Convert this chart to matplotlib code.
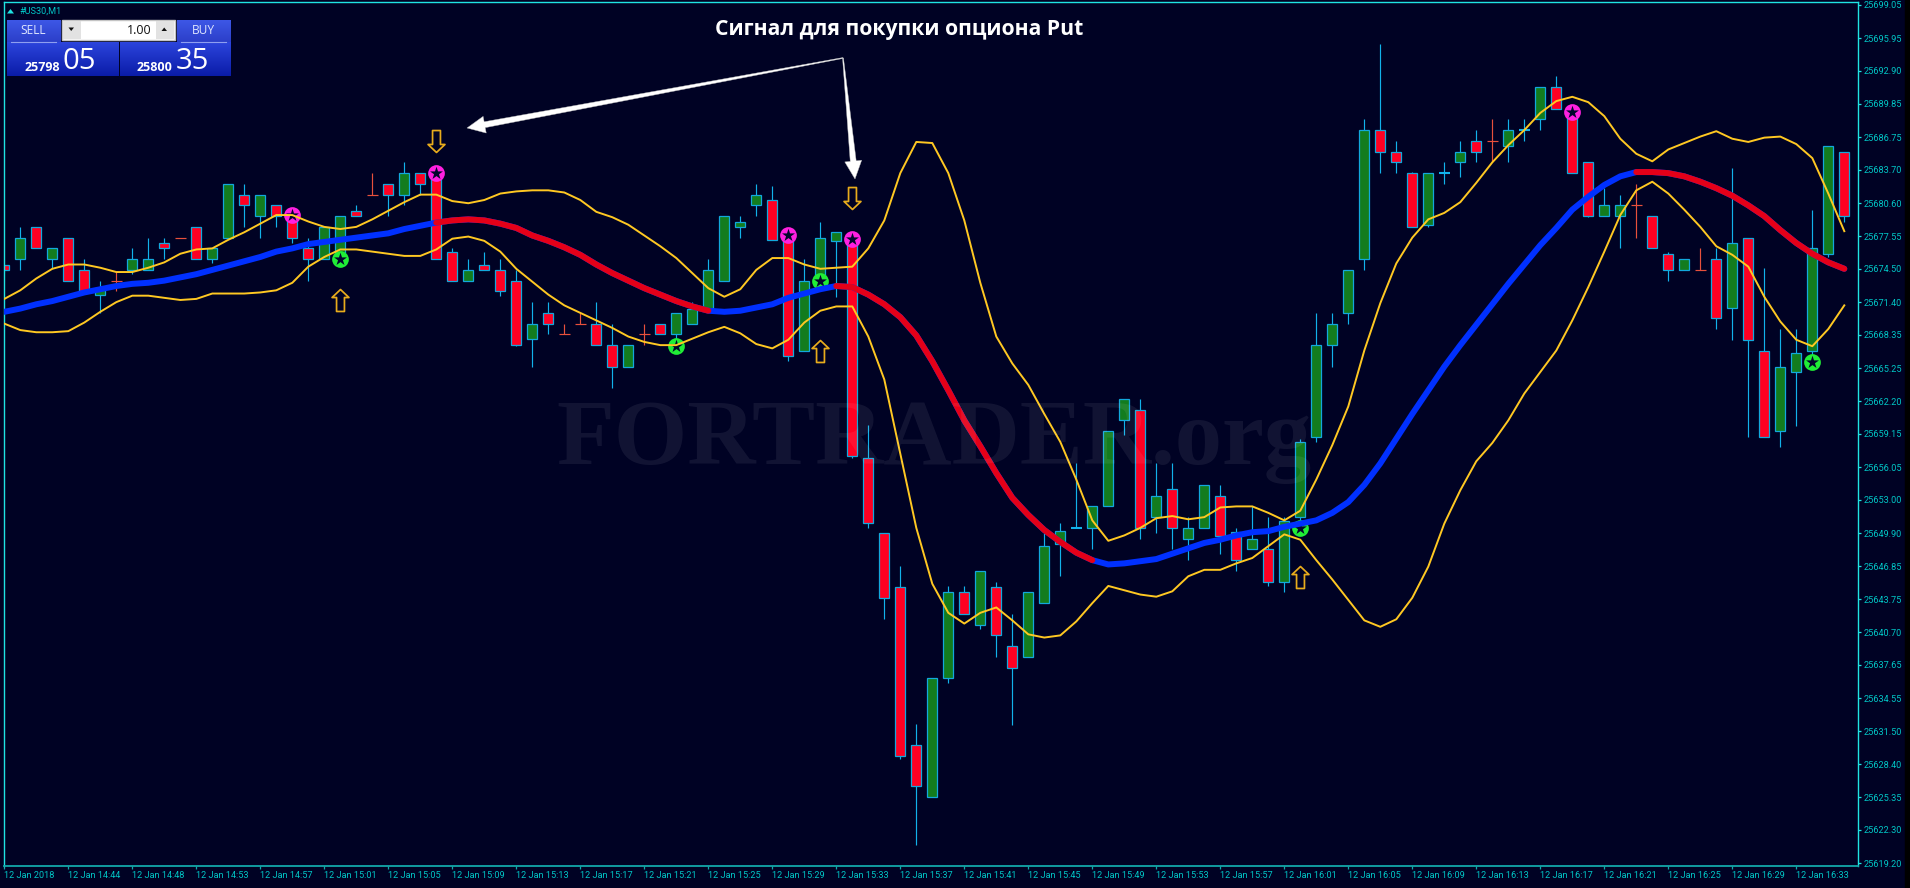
import numpy as np
import matplotlib
matplotlib.use("Agg")
import matplotlib.pyplot as plt
from matplotlib.path import Path
from matplotlib.patches import Rectangle, Polygon
from matplotlib.colors import LinearSegmentedColormap

W, H = 1910, 888
BG = "#000224"
SPINE = "#1fe3e3"
TICKTXT = "#00c6c6"

opens = [25674.9,25675.4,25678.4,25675.4,25677.4,25674.4,25672.1,25673.4,25674.4,25674.4,
25676.9,25677.4,25678.4,25675.4,25677.4,25681.4,25679.4,25680.4,25679.4,25676.4,
25675.4,25676.0,25679.9,25681.4,25682.4,25681.4,25683.4,25683.4,25676.1,25673.4,
25674.9,25674.4,25673.4,25668.0,25670.4,25668.4,25669.4,25669.4,25667.4,25665.4,
25668.4,25669.4,25668.4,25669.4,25670.7,25673.4,25678.4,25680.4,25680.9,25677.4,
25666.9,25673.4,25677.1,25677.4,25656.9,25649.9,25644.9,25630.2,25625.4,25636.4,
25644.4,25641.4,25644.9,25639.4,25638.4,25643.4,25648.9,25650.4,25650.4,25652.4,
25660.4,25661.4,25651.4,25654.0,25649.4,25650.4,25653.4,25650.0,25648.4,25648.4,
25645.4,25651.4,25658.9,25667.4,25670.4,25675.4,25687.4,25685.4,25683.4,25678.6,
25683.4,25684.4,25686.4,25686.4,25685.9,25687.4,25688.4,25691.4,25689.1,25684.4,
25679.4,25679.4,25680.4,25679.4,25675.9,25674.4,25674.4,25675.4,25670.9,25677.4,
25666.9,25659.4,25664.9,25666.9,25675.9,25685.4]
closes = [25674.4,25677.4,25676.4,25676.4,25673.4,25672.4,25672.7,25673.4,25675.4,25675.4,
25676.4,25677.4,25675.4,25676.4,25682.4,25680.4,25681.4,25679.4,25677.4,25675.4,
25678.4,25679.4,25679.4,25681.4,25681.4,25683.4,25682.4,25675.4,25673.4,25674.4,
25674.4,25672.4,25667.4,25669.4,25669.4,25668.4,25669.4,25667.4,25665.4,25667.4,
25668.4,25668.4,25670.4,25670.8,25674.4,25679.4,25678.9,25681.4,25677.2,25666.4,
25673.4,25677.4,25677.9,25657.1,25650.9,25643.9,25629.2,25626.4,25636.4,25644.4,
25642.4,25646.4,25640.4,25637.4,25644.4,25648.7,25650.1,25650.4,25652.4,25659.4,
25662.4,25650.4,25653.4,25650.4,25650.4,25654.4,25649.6,25647.4,25649.4,25645.4,
25651.0,25658.4,25667.4,25669.4,25674.4,25687.4,25685.4,25684.4,25678.4,25683.4,
25683.4,25685.4,25685.4,25686.4,25687.4,25687.4,25691.4,25689.4,25683.4,25679.4,
25680.4,25680.4,25680.4,25676.4,25674.4,25675.4,25674.4,25669.9,25676.9,25667.9,
25658.9,25665.4,25666.7,25676.4,25685.9,25679.4]
highs = [25674.9,25678.4,25678.4,25676.4,25677.4,25675.4,25673.4,25674.2,25676.4,25677.4,
25677.4,25677.4,25678.4,25676.4,25682.4,25682.4,25681.4,25680.4,25679.4,25677.4,
25678.4,25679.4,25680.4,25683.4,25682.4,25684.4,25683.4,25683.4,25676.4,25675.4,
25676.1,25675.4,25674.4,25671.4,25671.4,25669.4,25670.4,25671.4,25669.4,25667.4,
25669.4,25669.4,25670.4,25671.4,25675.4,25679.4,25679.4,25682.4,25682.2,25677.4,
25675.4,25678.9,25677.9,25677.9,25660.0,25649.9,25646.9,25632.2,25636.4,25645.0,
25645.0,25646.4,25645.4,25642.4,25644.4,25649.9,25650.9,25656.4,25652.4,25659.4,
25662.4,25662.4,25656.4,25656.4,25651.4,25654.4,25654.4,25650.4,25652.4,25651.4,
25651.4,25658.7,25670.4,25670.4,25674.4,25688.4,25695.4,25686.4,25683.5,25683.4,
25684.4,25686.4,25687.4,25688.4,25688.4,25688.4,25691.4,25692.4,25689.1,25684.4,
25682.0,25681.4,25682.4,25679.4,25676.1,25675.4,25676.4,25676.4,25683.9,25677.4,
25674.6,25668.9,25668.9,25680.0,25685.9,25685.4]
lows = [25674.4,25674.4,25676.4,25674.6,25673.4,25672.4,25670.4,25672.4,25674.0,25674.4,
25675.4,25677.4,25675.4,25675.0,25677.4,25678.4,25677.4,25678.4,25676.9,25673.4,
25675.4,25676.0,25679.4,25681.4,25679.4,25680.4,25681.4,25675.4,25673.4,25673.4,
25674.4,25672.0,25667.3,25665.4,25668.4,25668.4,25669.4,25667.4,25663.4,25665.4,
25667.4,25668.4,25667.4,25669.4,25670.7,25673.4,25677.4,25679.4,25677.2,25665.9,
25666.9,25673.4,25671.9,25656.9,25650.4,25641.9,25628.9,25620.9,25625.4,25636.0,
25642.4,25641.0,25638.4,25632.1,25638.4,25643.4,25645.9,25650.4,25648.4,25652.4,
25659.0,25649.4,25649.9,25648.4,25647.4,25650.4,25648.0,25646.4,25648.4,25645.0,
25644.4,25650.8,25658.4,25665.4,25669.4,25674.4,25683.4,25683.4,25678.4,25678.4,
25682.4,25683.0,25684.4,25684.4,25684.4,25686.4,25687.4,25689.4,25683.4,25679.3,
25679.4,25676.4,25677.4,25676.4,25673.4,25674.4,25674.4,25668.9,25667.9,25658.9,
25658.9,25657.9,25659.9,25666.2,25675.6,25678.9]

band_upper = [25671.7,25672.5,25673.6,25674.5,25674.9,25674.9,25674.6,25674.2,25674.2,25674.6,
25675.1,25675.9,25676.3,25676.4,25677.2,25677.9,25678.7,25679.5,25679.5,25678.9,
25678.4,25678.2,25678.4,25679.1,25679.9,25680.7,25681.4,25681.4,25680.8,25680.6,
25680.9,25681.5,25681.7,25681.8,25681.8,25681.6,25680.9,25679.8,25679.3,25678.6,
25677.6,25676.6,25675.5,25674.1,25672.7,25671.9,25672.6,25674.4,25675.5,25675.5,
25674.9,25674.5,25674.6,25674.7,25676.4,25679.0,25683.4,25686.3,25686.2,25683.4,
25679.0,25673.2,25668.2,25665.7,25663.7,25661.0,25658.4,25654.9,25651.1,25649.2,
25649.7,25650.4,25651.3,25651.5,25651.2,25651.4,25652.3,25652.4,25652.4,25651.8,
25651.1,25652.0,25654.9,25658.1,25661.7,25666.9,25671.3,25675.0,25677.4,25679.1,
25679.7,25680.7,25682.5,25684.4,25686.0,25687.4,25689.0,25690.1,25690.5,25690.0,
25688.7,25686.6,25685.2,25684.5,25685.6,25686.2,25686.8,25687.3,25686.6,25686.3,
25686.7,25686.8,25686.1,25684.8,25681.5,25678.0]
band_lower = [25669.4,25668.8,25668.6,25668.6,25668.7,25669.5,25670.5,25671.4,25672.0,25672.0,
25671.8,25671.6,25671.7,25672.2,25672.2,25672.2,25672.3,25672.5,25673.2,25674.7,
25675.6,25676.3,25676.3,25676.1,25675.9,25675.7,25675.7,25676.3,25677.3,25677.5,
25677.1,25676.1,25674.5,25673.3,25672.1,25671.1,25670.4,25669.7,25669.0,25668.2,
25667.7,25667.4,25667.4,25668.0,25668.6,25669.1,25668.5,25667.5,25667.1,25667.9,
25669.5,25670.6,25671.0,25671.0,25668.2,25664.2,25657.3,25650.4,25645.2,25642.5,
25641.5,25642.5,25643.0,25641.8,25640.5,25640.2,25640.4,25641.7,25643.4,25645.0,
25644.6,25644.2,25644.0,25644.5,25645.9,25646.5,25646.5,25647.1,25647.6,25648.7,
25649.8,25649.3,25647.4,25645.6,25643.7,25641.8,25641.2,25641.9,25643.9,25646.8,
25650.8,25653.9,25656.6,25658.3,25660.4,25662.9,25664.9,25666.9,25669.7,25672.8,
25676.1,25679.5,25681.8,25682.6,25681.5,25680.0,25678.4,25676.6,25675.8,25674.7,
25671.9,25669.6,25667.9,25667.3,25668.9,25671.1]
middle = [25670.5,25670.8,25671.2,25671.5,25671.9,25672.3,25672.6,25672.9,25673.1,25673.2,
25673.4,25673.7,25674.0,25674.4,25674.8,25675.2,25675.6,25676.1,25676.4,25676.8,
25677.0,25677.2,25677.4,25677.6,25677.8,25678.2,25678.5,25678.8,25679.0,25679.1,
25679.0,25678.7,25678.3,25677.6,25677.1,25676.5,25675.8,25674.9,25674.1,25673.4,
25672.7,25672.1,25671.5,25671.0,25670.6,25670.5,25670.6,25670.9,25671.2,25671.8,
25672.2,25672.6,25672.9,25672.8,25672.1,25671.2,25670.0,25668.3,25665.9,25663.2,
25660.4,25658.0,25655.5,25653.2,25651.6,25650.2,25649.1,25648.1,25647.4,25647.0,
25647.1,25647.3,25647.5,25648.0,25648.5,25649.0,25649.3,25649.7,25650.0,25650.1,
25650.5,25650.8,25651.1,25651.8,25652.8,25654.4,25656.4,25658.7,25661.0,25663.2,
25665.4,25667.4,25669.3,25671.2,25673.1,25674.9,25676.7,25678.3,25680.0,25681.2,
25682.3,25683.1,25683.5,25683.5,25683.4,25683.1,25682.6,25682.0,25681.3,25680.4,
25679.4,25678.1,25676.9,25675.9,25675.1,25674.5]

falling_spans = [(27, 44), (52, 68), (102, 115)]
blue_doji = [67, 90, 95]

sell_idx = [18, 27, 49, 53, 98]
sell_price = [25679.5, 25683.4, 25677.6, 25677.3, 25689.1]
buy_idx = [21, 42, 51, 81, 113]
buy_price = [25675.4, 25667.3, 25673.4, 25650.4, 25665.8]
arrow_down_idx = [27, 53]
arrow_down_price = [25686.4, 25681.1]
arrow_up_idx = [21, 51, 81]
arrow_up_price = [25671.6, 25666.9, 25645.8]

y_labels = ["25699.05","25695.95","25692.90","25689.85","25686.75","25683.70","25680.60",
"25677.55","25674.50","25671.40","25668.35","25665.25","25662.20","25659.15","25656.05",
"25653.00","25649.90","25646.85","25643.75","25640.70","25637.65","25634.55","25631.50",
"25628.40","25625.35","25622.30","25619.20"]
x_times = ["14:44","14:48","14:53","14:57","15:01","15:05","15:09","15:13","15:17","15:21",
"15:25","15:29","15:33","15:37","15:41","15:45","15:49","15:53","15:57","16:01","16:05",
"16:09","16:13","16:17","16:21","16:25","16:29","16:33"]

plt.rcParams["font.family"] = ["Roboto", "DejaVu Sans"]
fig = plt.figure(figsize=(W/100, H/100), dpi=100, facecolor=BG)
L, R, T, B = 3.7, 1857.7, 2.3, 866.0
ax = fig.add_axes([L/W, 1-B/H, (R-L)/W, (B-T)/H], facecolor=BG)
ax.set_xlim((L-4.3)/16, (R-4.3)/16)
ax.set_ylim(25618.95, 25699.29)

o = np.array(opens); c = np.array(closes); hi = np.array(highs); lo = np.array(lows)
idx = np.arange(len(o))
is_doji = o == c
is_up = c > o

ax.vlines(idx[~is_doji], lo[~is_doji], hi[~is_doji], color="#12b2ea", lw=0.85, zorder=1)
bw = 0.63
for mask, col in ((is_up, "#137c1e"), (~is_up & ~is_doji, "#ff0022")):
    ax.bar(idx[mask], (np.maximum(o, c)-np.minimum(o, c))[mask], bw, np.minimum(o, c)[mask],
           color=col, edgecolor="#12a8dc", linewidth=0.9, zorder=2)
blue = np.isin(idx, blue_doji)
rd = is_doji & ~blue
ax.vlines(idx[rd], lo[rd], hi[rd], color="#e8503c", lw=0.85, zorder=2)
ax.hlines(c[rd], idx[rd]-bw/2-0.03, idx[rd]+bw/2+0.03, color="#e8503c", lw=0.85, zorder=2)
ax.vlines(idx[blue], lo[blue], hi[blue], color="#12b2ea", lw=0.85, zorder=2)
ax.hlines(c[blue], idx[blue]-bw/2-0.03, idx[blue]+bw/2+0.03, color="#12b2ea", lw=1.5, zorder=2)

ax.scatter(sell_idx, sell_price, s=145, c="#ff20e0", linewidths=0, zorder=3)
ax.scatter(sell_idx, sell_price, s=95, c="#02062c", marker="*", linewidths=0, zorder=3.1)
ax.scatter(buy_idx, buy_price, s=145, c="#20ee36", linewidths=0, zorder=3)
ax.scatter(buy_idx, buy_price, s=95, c="#02062c", marker="*", linewidths=0, zorder=3.1)

up_verts = [(0,1),(0.77,0.27),(0.36,0.27),(0.36,-1),(-0.36,-1),(-0.36,0.27),(-0.77,0.27),(0,1)]
up_path = Path(up_verts, closed=True)
down_path = Path([(x, -y) for x, y in up_verts], closed=True)
ax.plot(arrow_up_idx, arrow_up_price, ls="", marker=up_path, ms=15.8, mfc="none", mec="#e8ac1c", mew=1.25, zorder=3.2)
ax.plot(arrow_down_idx, arrow_down_price, ls="", marker=down_path, ms=15.8, mfc="none", mec="#e8ac1c", mew=1.25, zorder=3.2)

ax.plot(idx, band_upper, color="#ffc822", lw=1.4, zorder=4)
ax.plot(idx, band_lower, color="#ffc822", lw=1.4, zorder=4)
m = np.array(middle)
ax.plot(idx, m, color="#0030ff", lw=4.3, solid_capstyle="round", zorder=5)
for a, b in falling_spans:
    ax.plot(idx[a:b+1], m[a:b+1], color="#e40018", lw=4.3, solid_capstyle="round", zorder=5.1)

for s in ("top", "left", "right"):
    ax.spines[s].set_color(SPINE); ax.spines[s].set_linewidth(1.0)
ax.spines["bottom"].set_color("#12a8aa"); ax.spines["bottom"].set_linewidth(1.3)
ax.yaxis.tick_right()
ax.set_yticks([float(v) for v in y_labels]); ax.set_yticklabels(y_labels)
ax.set_xticks([0] + list(range(4, 113, 4)))
ax.set_xticklabels(["12 Jan 2018"] + ["12 Jan " + t for t in x_times], ha="left")
ax.tick_params(axis="y", colors=TICKTXT, length=2, width=0.9, pad=2.5, labelsize=6.6, color=SPINE)
ax.tick_params(axis="x", colors=TICKTXT, length=2, width=0.9, pad=1.5, labelsize=6.6, color="#12a8aa")

fig.add_artist(Rectangle((1905/W, 0), 5/W, 1, transform=fig.transFigure, color="#000000", zorder=10))

# overlay in image pixels
ov = fig.add_axes([0, 0, 1, 1], facecolor="none")
ov.set_axis_off()

ov.text(934, 441, "FORTRADER.org", family="Liberation Serif", weight="bold", fontsize=68,
        color="white", alpha=0.07, ha="center", va="center", zorder=1)

def grad(x0, y0, x1, y1, top, bottom):
    cm = LinearSegmentedColormap.from_list("g", [top, bottom])
    ov.imshow(np.linspace(0, 1, 32).reshape(-1, 1), extent=(x0, x1, y1, y0), cmap=cm, aspect="auto", zorder=2)

grad(7, 20, 60, 43, "#3d57e6", "#2b3ec8")
grad(177, 20, 230, 43, "#3d57e6", "#2b3ec8")
grad(7, 42, 118, 76, "#2c44dc", "#0a1ca8")
grad(120, 42, 230, 76, "#2c44dc", "#0a1ca8")
for x0, x1 in ((11, 56), (181, 226)):
    ov.plot([x0, x1], [42, 42], color="#8f9ff0", lw=0.8, zorder=3)
ov.add_patch(Rectangle((62, 20), 113, 20, fc="#ffffff", ec="#c4c4c4", lw=1, zorder=3))
ov.add_patch(Rectangle((63, 21), 18, 18, fc="#e2e2e2", ec="none", zorder=3.1))
ov.add_patch(Rectangle((156, 21), 18, 18, fc="#e2e2e2", ec="none", zorder=3.1))
ov.add_patch(Polygon([(68.5, 27.5), (74, 27.5), (71.2, 31)], fc="#101010", ec="none", zorder=3.2))
ov.add_patch(Polygon([(161.5, 31), (167, 31), (164.2, 27.5)], fc="#101010", ec="none", zorder=3.2))
ov.text(152, 30, "1.00", fontsize=9, family="Open Sans", color="#111111", ha="right", va="center", zorder=4)
ov.text(33, 31, "SELL", fontsize=8.6, family="Open Sans", color="#dfe6ff", ha="center", va="center", zorder=4)
ov.text(203, 31, "BUY", fontsize=8.6, family="Open Sans", color="#dfe6ff", ha="center", va="center", zorder=4)
ov.text(42, 71, "25798", fontsize=9, family="Open Sans", weight="bold", color="white", ha="center", va="baseline", zorder=4)
ov.text(79, 69, "05", fontsize=21, family="Open Sans", color="white", ha="center", va="baseline", zorder=4)
ov.text(154, 71, "25800", fontsize=9, family="Open Sans", weight="bold", color="white", ha="center", va="baseline", zorder=4)
ov.text(192, 69, "35", fontsize=21, family="Open Sans", color="white", ha="center", va="baseline", zorder=4)
ov.add_patch(Polygon([(7, 13.5), (14, 13.5), (10.5, 9)], fc=SPINE, ec="none", zorder=4))
ov.text(19, 11, "#US30,M1", fontsize=6.6, color=TICKTXT, ha="left", va="center", zorder=4)

ov.text(899, 30, "Сигнал для покупки опциона Put", family=["Open Sans", "DejaVu Sans"],
        weight="bold", fontsize=15.2, color="white", ha="center", va="center", zorder=6)

def wedge(p0, tip, w0, w1, head_len, head_w):
    p0 = np.array(p0, float); tip = np.array(tip, float)
    d = tip-p0; d /= np.hypot(*d); n = np.array([-d[1], d[0]])
    base = tip-d*head_len
    pts = [p0+n*w0/2, base+n*w1/2, base+n*head_w/2, tip, base-n*head_w/2, base-n*w1/2, p0-n*w0/2]
    ov.add_patch(Polygon(pts, closed=True, fc="white", ec="#bbbbbb", lw=0.3, zorder=6))

wedge((843, 58), (467, 128), 0.9, 6, 18, 17)
wedge((843, 58), (855, 179), 0.9, 6, 18, 17)

ov.set_xlim(0, W); ov.set_ylim(H, 0)
fig.savefig("out.png", dpi=100, facecolor=BG)
